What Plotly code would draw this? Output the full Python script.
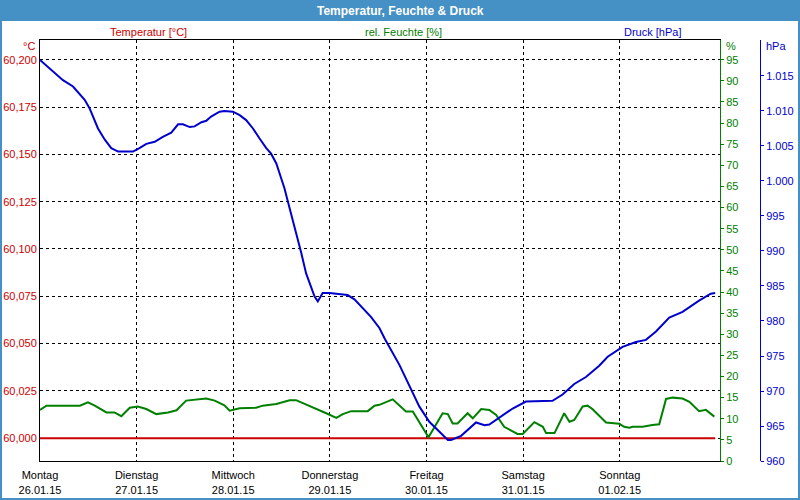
import plotly.graph_objects as go

# ---- data (hours since Monday 26.01.15 00:00) ----
day_ticks_hours = [0, 24, 48, 72, 96, 120, 144]
day_tick_labels = ["Montag<br>26.01.15", "Dienstag<br>27.01.15", "Mittwoch<br>28.01.15",
                   "Donnerstag<br>29.01.15", "Freitag<br>30.01.15", "Samstag<br>31.01.15",
                   "Sonntag<br>01.02.15"]

temp_hours = [0, 167.7]
temperature = [60.000, 60.000]

hum_hours = [0, 1.6, 9.9, 11.9, 13.6, 16.5, 18.5, 20.2, 22.3, 24.3, 26.4, 28.9, 31.8, 33.9,
             36.3, 38.8, 41.3, 43.4, 45.8, 47.1, 49.6, 53.7, 55.3, 58.7, 62.0, 63.6, 66.1,
             68.6, 71.1, 73.6, 75.2, 77.3, 81.4, 83.1, 84.3, 87.6, 90.9, 92.6, 96.5, 100.0,
             101.3, 102.5, 103.7, 106.2, 107.5, 109.6, 111.6, 113.3, 115.3, 118.6, 119.9,
             122.8, 124.9, 125.7, 127.8, 130.2, 131.5, 132.7, 134.8, 136.0, 137.2, 140.6,
             143.9, 145.1, 146.4, 147.2, 149.7, 152.1, 153.8, 155.5, 157.1, 159.6, 161.3,
             163.7, 165.4, 167.5]
humidity = [12.1, 13.1, 13.1, 13.9, 13.1, 11.5, 11.5, 10.6, 12.6, 12.9, 12.3, 11.1, 11.5, 12.0,
            14.3, 14.5, 14.8, 14.3, 13.2, 11.9, 12.5, 12.6, 13.1, 13.5, 14.4, 14.4, 13.4,
            12.3, 11.3, 10.2, 11.1, 11.8, 11.8, 13.1, 13.3, 14.6, 11.7, 11.7, 5.6, 11.3,
            11.1, 8.9, 8.9, 11.3, 10.1, 12.3, 12.1, 10.9, 8.1, 6.4, 6.4,
            9.2, 8.1, 6.6, 6.6, 11.3, 9.3, 9.7, 12.9, 13.1, 12.3, 9.1,
            8.8, 8.1, 7.9, 8.1, 8.1, 8.5, 8.7, 14.7, 15.0, 14.8, 14.0,
            11.8, 12.1, 10.5]

pres_hours = [0, 2.4, 5.7, 8.2, 11.1, 12.3, 14.4, 16.1, 17.7, 19.4, 23.1, 24.7, 26.4, 28.5,
              30.5, 32.6, 34.3, 35.5, 37.2, 38.4, 40.1, 41.3, 42.5, 44.6, 45.8, 47.9, 49.6,
              51.2, 52.9, 54.5, 56.2, 57.4, 58.7, 59.9, 60.7, 61.6, 62.8, 64.0, 64.9, 66.1,
              67.4, 68.2, 69.0, 70.2, 71.9, 76.4, 78.1, 79.8, 82.2, 84.3, 85.6, 89.3, 91.8,
              94.2, 96.7, 99.2, 101.3, 102.1, 104.6, 108.3, 110.4, 111.6, 114.1, 117.4,
              120.7, 127.3, 129.8, 132.7, 135.6, 138.9, 141.0, 144.7, 148.0, 150.5, 153.0,
              156.3, 159.6, 163.7, 166.6, 167.7]
pressure = [1017.3, 1016.1, 1014.4, 1013.5, 1011.6, 1010.4, 1007.5, 1005.9, 1004.7, 1004.2,
            1004.2, 1004.7, 1005.3, 1005.6, 1006.3, 1006.9, 1008.1, 1008.1, 1007.7, 1007.8,
            1008.4, 1008.6, 1009.2, 1009.9, 1010.0, 1009.9, 1009.4, 1008.7, 1007.5, 1006.1,
            1004.7, 1003.9, 1002.5, 1000.4, 999.0, 997.0, 994.4, 991.6, 989.7, 986.8,
            984.7, 983.5, 982.8, 984.0, 984.0, 983.7, 983.1, 982.0, 980.6, 979.0, 977.5,
            973.7, 970.6, 967.8, 965.6, 964.2, 963.0, 963.0, 963.6, 965.5, 965.1, 965.2,
            966.2, 967.5, 968.5, 968.6, 969.5, 971.0, 972.0, 973.6, 974.9, 976.3, 977.0,
            977.3, 978.5, 980.5, 981.3, 982.9, 983.9, 984.0]

temp_ticks = [60.000, 60.025, 60.050, 60.075, 60.100, 60.125, 60.150, 60.175, 60.200]
hum_ticks = list(range(0, 100, 5))
pres_ticks = list(range(960, 1020, 5))

RED = "#cc0000"
GREEN = "#008000"
BLUE = "#0000cc"
FRAME = "#4590c4"
FONT = "Liberation Sans, Arial, sans-serif"

fig = go.Figure()
fig.add_trace(go.Scatter(x=temp_hours, y=temperature, mode="lines",
                         line=dict(color=RED, width=2), yaxis="y", showlegend=False))
fig.add_trace(go.Scatter(x=hum_hours, y=humidity, mode="lines",
                         line=dict(color=GREEN, width=2), yaxis="y2", showlegend=False))
fig.add_trace(go.Scatter(x=pres_hours, y=pressure, mode="lines",
                         line=dict(color=BLUE, width=2), yaxis="y3", showlegend=False))

# plot area spans pixels 40..760 horizontally (x-domain ends at 720), 40..461 vertically


def px(x):
    return (x - 40) / 720.0


def py(y):
    return (461 - y) / 421.0


fig.update_layout(
    width=800, height=500,
    margin=dict(l=40, r=40, t=40, b=39, autoexpand=False),
    paper_bgcolor="white", plot_bgcolor="white",
    separators=",.",
    font=dict(family=FONT, size=11, color="black"),
    xaxis=dict(domain=[0, px(720)], range=[0, 168.9], tickvals=day_ticks_hours,
               ticktext=day_tick_labels, automargin=False,
               showgrid=True, gridcolor="black", griddash="dot", gridwidth=1,
               showline=True, linecolor="black", linewidth=1, mirror=True,
               ticks="outside", ticklen=4, tickcolor="rgba(0,0,0,0)",
               zeroline=False, tickfont=dict(color="black", size=11)),
    yaxis=dict(range=[59.988, 60.2104], tickvals=temp_ticks, tickformat=".3f",
               automargin=False,
               showgrid=True, gridcolor="black", griddash="dot", gridwidth=1,
               showline=True, linecolor="black", linewidth=1, ticks="",
               zeroline=False, tickfont=dict(color=RED, size=11)),
    yaxis2=dict(range=[0, 99.66], tickvals=hum_ticks, overlaying="y", side="right",
                automargin=False,
                showgrid=False, showline=True, linecolor=GREEN, linewidth=1,
                ticks="outside", ticklen=3, tickcolor=GREEN, zeroline=False,
                tickfont=dict(color=GREEN, size=11)),
    yaxis3=dict(range=[960, 1020.14], tickvals=pres_ticks, tickformat=",d",
                overlaying="y", side="right", anchor="free", position=1.0,
                automargin=False,
                showgrid=False, showline=True, linecolor=BLUE, linewidth=1,
                ticks="outside", ticklen=3, tickcolor=BLUE, zeroline=False,
                tickfont=dict(color=BLUE, size=11)),
    shapes=[
        dict(type="rect", xref="paper", yref="paper", x0=px(0), x1=px(800),
             y0=py(21), y1=py(0), fillcolor=FRAME, line=dict(width=0), layer="above"),
        dict(type="rect", xref="paper", yref="paper", x0=px(1), x1=px(799),
             y0=py(499), y1=py(1), fillcolor="rgba(0,0,0,0)",
             line=dict(color=FRAME, width=2), layer="above"),
    ],
    annotations=[
        dict(text="<b>Temperatur, Feuchte &amp; Druck</b>", xref="paper", yref="paper",
             x=px(400), y=py(10.5), showarrow=False, xanchor="center", yanchor="middle",
             font=dict(color="white", size=12, family=FONT)),
        dict(text="Temperatur [°C]", xref="paper", yref="paper", x=px(148), y=py(32),
             showarrow=False, xanchor="center", yanchor="middle", font=dict(color=RED, size=11)),
        dict(text="rel. Feuchte [%]", xref="paper", yref="paper", x=px(403), y=py(32),
             showarrow=False, xanchor="center", yanchor="middle", font=dict(color=GREEN, size=11)),
        dict(text="Druck [hPa]", xref="paper", yref="paper", x=px(652), y=py(32),
             showarrow=False, xanchor="center", yanchor="middle", font=dict(color=BLUE, size=11)),
        dict(text="°C", xref="paper", yref="paper", x=px(37), y=py(46),
             showarrow=False, xanchor="right", yanchor="middle", font=dict(color=RED, size=11)),
        dict(text="%", xref="paper", yref="paper", x=px(724), y=py(46),
             showarrow=False, xanchor="left", yanchor="middle", font=dict(color=GREEN, size=11)),
        dict(text="hPa", xref="paper", yref="paper", x=px(764), y=py(46),
             showarrow=False, xanchor="left", yanchor="middle", font=dict(color=BLUE, size=11)),
    ],
)

fig.write_html("out.html")
